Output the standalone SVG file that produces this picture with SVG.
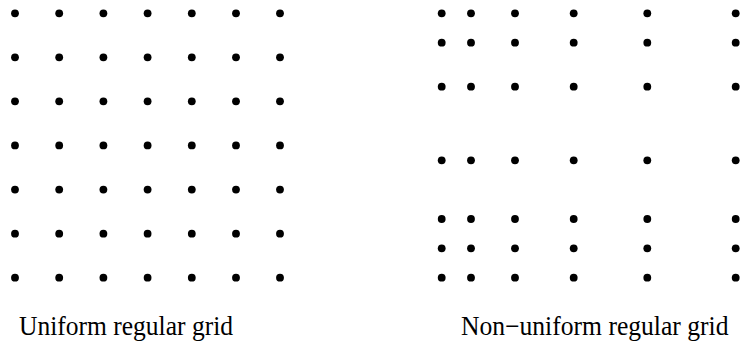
<svg xmlns="http://www.w3.org/2000/svg" width="746" height="347" viewBox="0 0 746 347">
<style>
.d{fill:#000}
.t{font-family:"Liberation Serif","Times New Roman",serif;font-size:27px;fill:#000}
</style>
<defs><circle id="p" r="3.9" class="d"/></defs>
<rect width="746" height="347" fill="#fff"/>
<g id="uniform">
<g id="u-r0"><use href="#p" x="15" y="13.3"/><use href="#p" x="59.2" y="13.3"/><use href="#p" x="103.4" y="13.3"/><use href="#p" x="147.6" y="13.3"/><use href="#p" x="191.8" y="13.3"/><use href="#p" x="236" y="13.3"/><use href="#p" x="280" y="13.3"/></g>
<g id="u-r1"><use href="#p" x="15" y="57.3"/><use href="#p" x="59.2" y="57.3"/><use href="#p" x="103.4" y="57.3"/><use href="#p" x="147.6" y="57.3"/><use href="#p" x="191.8" y="57.3"/><use href="#p" x="236" y="57.3"/><use href="#p" x="280" y="57.3"/></g>
<g id="u-r2"><use href="#p" x="15" y="101.3"/><use href="#p" x="59.2" y="101.3"/><use href="#p" x="103.4" y="101.3"/><use href="#p" x="147.6" y="101.3"/><use href="#p" x="191.8" y="101.3"/><use href="#p" x="236" y="101.3"/><use href="#p" x="280" y="101.3"/></g>
<g id="u-r3"><use href="#p" x="15" y="145.4"/><use href="#p" x="59.2" y="145.4"/><use href="#p" x="103.4" y="145.4"/><use href="#p" x="147.6" y="145.4"/><use href="#p" x="191.8" y="145.4"/><use href="#p" x="236" y="145.4"/><use href="#p" x="280" y="145.4"/></g>
<g id="u-r4"><use href="#p" x="15" y="189.6"/><use href="#p" x="59.2" y="189.6"/><use href="#p" x="103.4" y="189.6"/><use href="#p" x="147.6" y="189.6"/><use href="#p" x="191.8" y="189.6"/><use href="#p" x="236" y="189.6"/><use href="#p" x="280" y="189.6"/></g>
<g id="u-r5"><use href="#p" x="15" y="233.7"/><use href="#p" x="59.2" y="233.7"/><use href="#p" x="103.4" y="233.7"/><use href="#p" x="147.6" y="233.7"/><use href="#p" x="191.8" y="233.7"/><use href="#p" x="236" y="233.7"/><use href="#p" x="280" y="233.7"/></g>
<g id="u-r6"><use href="#p" x="15" y="277.7"/><use href="#p" x="59.2" y="277.7"/><use href="#p" x="103.4" y="277.7"/><use href="#p" x="147.6" y="277.7"/><use href="#p" x="191.8" y="277.7"/><use href="#p" x="236" y="277.7"/><use href="#p" x="280" y="277.7"/></g>
<text class="t" x="19" y="335.3" textLength="214" lengthAdjust="spacingAndGlyphs">Uniform regular grid</text>
</g>
<g id="nonuniform">
<g id="n-r0"><use href="#p" x="441.7" y="13.3"/><use href="#p" x="471" y="13.3"/><use href="#p" x="515" y="13.3"/><use href="#p" x="573.7" y="13.3"/><use href="#p" x="647.3" y="13.3"/><use href="#p" x="735.7" y="13.3"/></g>
<g id="n-r1"><use href="#p" x="441.7" y="42.7"/><use href="#p" x="471" y="42.7"/><use href="#p" x="515" y="42.7"/><use href="#p" x="573.7" y="42.7"/><use href="#p" x="647.3" y="42.7"/><use href="#p" x="735.7" y="42.7"/></g>
<g id="n-r2"><use href="#p" x="441.7" y="86.7"/><use href="#p" x="471" y="86.7"/><use href="#p" x="515" y="86.7"/><use href="#p" x="573.7" y="86.7"/><use href="#p" x="647.3" y="86.7"/><use href="#p" x="735.7" y="86.7"/></g>
<g id="n-r3"><use href="#p" x="441.7" y="160.3"/><use href="#p" x="471" y="160.3"/><use href="#p" x="515" y="160.3"/><use href="#p" x="573.7" y="160.3"/><use href="#p" x="647.3" y="160.3"/><use href="#p" x="735.7" y="160.3"/></g>
<g id="n-r4"><use href="#p" x="441.7" y="219"/><use href="#p" x="471" y="219"/><use href="#p" x="515" y="219"/><use href="#p" x="573.7" y="219"/><use href="#p" x="647.3" y="219"/><use href="#p" x="735.7" y="219"/></g>
<g id="n-r5"><use href="#p" x="441.7" y="248.3"/><use href="#p" x="471" y="248.3"/><use href="#p" x="515" y="248.3"/><use href="#p" x="573.7" y="248.3"/><use href="#p" x="647.3" y="248.3"/><use href="#p" x="735.7" y="248.3"/></g>
<g id="n-r6"><use href="#p" x="441.7" y="277.7"/><use href="#p" x="471" y="277.7"/><use href="#p" x="515" y="277.7"/><use href="#p" x="573.7" y="277.7"/><use href="#p" x="647.3" y="277.7"/><use href="#p" x="735.7" y="277.7"/></g>
<text class="t" x="461" y="335.3" textLength="267.5" lengthAdjust="spacingAndGlyphs">Non−uniform regular grid</text>
</g>
</svg>
